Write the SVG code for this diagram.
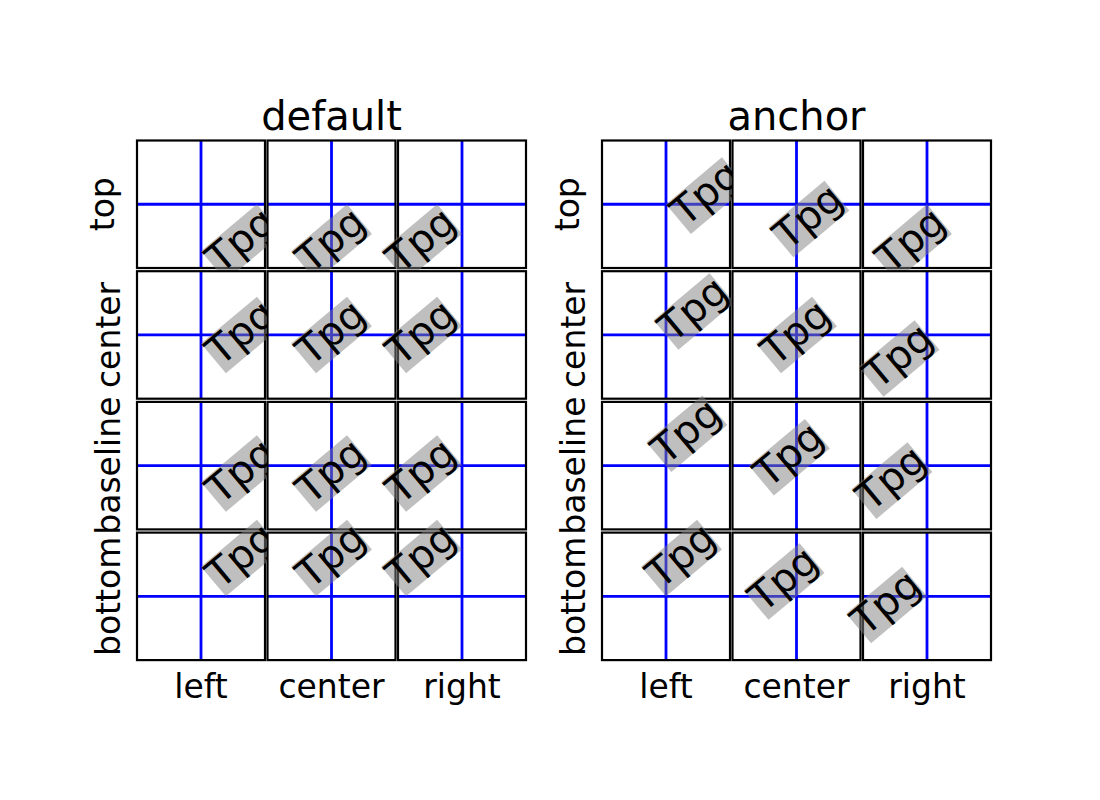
<svg xmlns="http://www.w3.org/2000/svg" width="1100" height="800" viewBox="0 0 1100 800">
<style>
text{font-family:"DejaVu Sans",sans-serif;fill:#000}
.bg{fill:#fff;stroke:none}
.fr{fill:none;stroke:#000;stroke-width:2.2}
.bl{stroke:#0000ff;stroke-width:2.8}
.bx{fill:#808080;fill-opacity:0.5}
.tp{font-size:40px}
.lb{font-size:33px;text-anchor:middle}
.ti{font-size:40px;text-anchor:middle}
</style>
<rect width="1100" height="800" fill="#fff"/>
<g id="default-panel">
<text class="ti" x="331.5" y="130">default</text>
<g id="d-top-left"><rect class="bg" x="137" y="140.5" width="128" height="127.5"/><line class="bl" x1="201" y1="140.5" x2="201" y2="268"/><line class="bl" x1="137" y1="204.25" x2="265" y2="204.25"/><rect class="fr" x="137" y="140.5" width="128" height="127.5"/><g transform="translate(220.55,274.46) rotate(-40)"><rect class="bx" x="0" y="-30.4" width="73" height="38.7"/><text class="tp">Tpg</text></g></g>
<g id="d-top-center"><rect class="bg" x="267.5" y="140.5" width="128" height="127.5"/><line class="bl" x1="331.5" y1="140.5" x2="331.5" y2="268"/><line class="bl" x1="267.5" y1="204.25" x2="395.5" y2="204.25"/><rect class="fr" x="267.5" y="140.5" width="128" height="127.5"/><g transform="translate(310.65,274.46) rotate(-40)"><rect class="bx" x="0" y="-30.4" width="73" height="38.7"/><text class="tp">Tpg</text></g></g>
<g id="d-top-right"><rect class="bg" x="398" y="140.5" width="128" height="127.5"/><line class="bl" x1="462" y1="140.5" x2="462" y2="268"/><line class="bl" x1="398" y1="204.25" x2="526" y2="204.25"/><rect class="fr" x="398" y="140.5" width="128" height="127.5"/><g transform="translate(400.74,274.46) rotate(-40)"><rect class="bx" x="0" y="-30.4" width="73" height="38.7"/><text class="tp">Tpg</text></g></g>
<g id="d-center-left"><rect class="bg" x="137" y="271.2" width="128" height="127.5"/><line class="bl" x1="201" y1="271.2" x2="201" y2="398.7"/><line class="bl" x1="137" y1="334.95" x2="265" y2="334.95"/><rect class="fr" x="137" y="271.2" width="128" height="127.5"/><g transform="translate(220.55,366.88) rotate(-40)"><rect class="bx" x="0" y="-30.4" width="73" height="38.7"/><text class="tp">Tpg</text></g></g>
<g id="d-center-center"><rect class="bg" x="267.5" y="271.2" width="128" height="127.5"/><line class="bl" x1="331.5" y1="271.2" x2="331.5" y2="398.7"/><line class="bl" x1="267.5" y1="334.95" x2="395.5" y2="334.95"/><rect class="fr" x="267.5" y="271.2" width="128" height="127.5"/><g transform="translate(310.65,366.88) rotate(-40)"><rect class="bx" x="0" y="-30.4" width="73" height="38.7"/><text class="tp">Tpg</text></g></g>
<g id="d-center-right"><rect class="bg" x="398" y="271.2" width="128" height="127.5"/><line class="bl" x1="462" y1="271.2" x2="462" y2="398.7"/><line class="bl" x1="398" y1="334.95" x2="526" y2="334.95"/><rect class="fr" x="398" y="271.2" width="128" height="127.5"/><g transform="translate(400.74,366.88) rotate(-40)"><rect class="bx" x="0" y="-30.4" width="73" height="38.7"/><text class="tp">Tpg</text></g></g>
<g id="d-baseline-left"><rect class="bg" x="137" y="401.9" width="128" height="127.5"/><line class="bl" x1="201" y1="401.9" x2="201" y2="529.4"/><line class="bl" x1="137" y1="465.65" x2="265" y2="465.65"/><rect class="fr" x="137" y="401.9" width="128" height="127.5"/><g transform="translate(220.55,505.46) rotate(-40)"><rect class="bx" x="0" y="-30.4" width="73" height="38.7"/><text class="tp">Tpg</text></g></g>
<g id="d-baseline-center"><rect class="bg" x="267.5" y="401.9" width="128" height="127.5"/><line class="bl" x1="331.5" y1="401.9" x2="331.5" y2="529.4"/><line class="bl" x1="267.5" y1="465.65" x2="395.5" y2="465.65"/><rect class="fr" x="267.5" y="401.9" width="128" height="127.5"/><g transform="translate(310.65,505.46) rotate(-40)"><rect class="bx" x="0" y="-30.4" width="73" height="38.7"/><text class="tp">Tpg</text></g></g>
<g id="d-baseline-right"><rect class="bg" x="398" y="401.9" width="128" height="127.5"/><line class="bl" x1="462" y1="401.9" x2="462" y2="529.4"/><line class="bl" x1="398" y1="465.65" x2="526" y2="465.65"/><rect class="fr" x="398" y="401.9" width="128" height="127.5"/><g transform="translate(400.74,505.46) rotate(-40)"><rect class="bx" x="0" y="-30.4" width="73" height="38.7"/><text class="tp">Tpg</text></g></g>
<g id="d-bottom-left"><rect class="bg" x="137" y="532.6" width="128" height="127.5"/><line class="bl" x1="201" y1="532.6" x2="201" y2="660.1"/><line class="bl" x1="137" y1="596.35" x2="265" y2="596.35"/><rect class="fr" x="137" y="532.6" width="128" height="127.5"/><g transform="translate(220.55,589.99) rotate(-40)"><rect class="bx" x="0" y="-30.4" width="73" height="38.7"/><text class="tp">Tpg</text></g></g>
<g id="d-bottom-center"><rect class="bg" x="267.5" y="532.6" width="128" height="127.5"/><line class="bl" x1="331.5" y1="532.6" x2="331.5" y2="660.1"/><line class="bl" x1="267.5" y1="596.35" x2="395.5" y2="596.35"/><rect class="fr" x="267.5" y="532.6" width="128" height="127.5"/><g transform="translate(310.65,589.99) rotate(-40)"><rect class="bx" x="0" y="-30.4" width="73" height="38.7"/><text class="tp">Tpg</text></g></g>
<g id="d-bottom-right"><rect class="bg" x="398" y="532.6" width="128" height="127.5"/><line class="bl" x1="462" y1="532.6" x2="462" y2="660.1"/><line class="bl" x1="398" y1="596.35" x2="526" y2="596.35"/><rect class="fr" x="398" y="532.6" width="128" height="127.5"/><g transform="translate(400.74,589.99) rotate(-40)"><rect class="bx" x="0" y="-30.4" width="73" height="38.7"/><text class="tp">Tpg</text></g></g>
<text class="lb" x="201" y="698">left</text>
<text class="lb" x="331.5" y="698">center</text>
<text class="lb" x="462" y="698">right</text>
<text class="lb" transform="translate(114,204.25) rotate(-90)">top</text>
<text class="lb" transform="translate(119.5,334.95) rotate(-90)">center</text>
<text class="lb" transform="translate(119.5,465.65) rotate(-90)">baseline</text>
<text class="lb" transform="translate(119.5,596.35) rotate(-90)">bottom</text>
</g>
<g id="anchor-panel">
<text class="ti" x="796.5" y="130">anchor</text>
<g id="a-top-left"><rect class="bg" x="602" y="140.5" width="128" height="127.5"/><line class="bl" x1="666" y1="140.5" x2="666" y2="268"/><line class="bl" x1="602" y1="204.25" x2="730" y2="204.25"/><rect class="fr" x="602" y="140.5" width="128" height="127.5"/><g transform="translate(666,204.25) rotate(-40)"><rect class="bx" x="0" y="0" width="73" height="38.7"/><text class="tp" x="0" y="30.4">Tpg</text></g></g>
<g id="a-top-center"><rect class="bg" x="732.5" y="140.5" width="128" height="127.5"/><line class="bl" x1="796.5" y1="140.5" x2="796.5" y2="268"/><line class="bl" x1="732.5" y1="204.25" x2="860.5" y2="204.25"/><rect class="fr" x="732.5" y="140.5" width="128" height="127.5"/><g transform="translate(796.5,204.25) rotate(-40)"><rect class="bx" x="-36.5" y="0" width="73" height="38.7"/><text class="tp" x="-36.5" y="30.4">Tpg</text></g></g>
<g id="a-top-right"><rect class="bg" x="863" y="140.5" width="128" height="127.5"/><line class="bl" x1="927" y1="140.5" x2="927" y2="268"/><line class="bl" x1="863" y1="204.25" x2="991" y2="204.25"/><rect class="fr" x="863" y="140.5" width="128" height="127.5"/><g transform="translate(927,204.25) rotate(-40)"><rect class="bx" x="-73" y="0" width="73" height="38.7"/><text class="tp" x="-73" y="30.4">Tpg</text></g></g>
<g id="a-center-left"><rect class="bg" x="602" y="271.2" width="128" height="127.5"/><line class="bl" x1="666" y1="271.2" x2="666" y2="398.7"/><line class="bl" x1="602" y1="334.95" x2="730" y2="334.95"/><rect class="fr" x="602" y="271.2" width="128" height="127.5"/><g transform="translate(666,334.95) rotate(-40)"><rect class="bx" x="0" y="-19.35" width="73" height="38.7"/><text class="tp" x="0" y="11.05">Tpg</text></g></g>
<g id="a-center-center"><rect class="bg" x="732.5" y="271.2" width="128" height="127.5"/><line class="bl" x1="796.5" y1="271.2" x2="796.5" y2="398.7"/><line class="bl" x1="732.5" y1="334.95" x2="860.5" y2="334.95"/><rect class="fr" x="732.5" y="271.2" width="128" height="127.5"/><g transform="translate(796.5,334.95) rotate(-40)"><rect class="bx" x="-36.5" y="-19.35" width="73" height="38.7"/><text class="tp" x="-36.5" y="11.05">Tpg</text></g></g>
<g id="a-center-right"><rect class="bg" x="863" y="271.2" width="128" height="127.5"/><line class="bl" x1="927" y1="271.2" x2="927" y2="398.7"/><line class="bl" x1="863" y1="334.95" x2="991" y2="334.95"/><rect class="fr" x="863" y="271.2" width="128" height="127.5"/><g transform="translate(927,334.95) rotate(-40)"><rect class="bx" x="-73" y="-19.35" width="73" height="38.7"/><text class="tp" x="-73" y="11.05">Tpg</text></g></g>
<g id="a-baseline-left"><rect class="bg" x="602" y="401.9" width="128" height="127.5"/><line class="bl" x1="666" y1="401.9" x2="666" y2="529.4"/><line class="bl" x1="602" y1="465.65" x2="730" y2="465.65"/><rect class="fr" x="602" y="401.9" width="128" height="127.5"/><g transform="translate(666,465.65) rotate(-40)"><rect class="bx" x="0" y="-30.4" width="73" height="38.7"/><text class="tp" x="0" y="0">Tpg</text></g></g>
<g id="a-baseline-center"><rect class="bg" x="732.5" y="401.9" width="128" height="127.5"/><line class="bl" x1="796.5" y1="401.9" x2="796.5" y2="529.4"/><line class="bl" x1="732.5" y1="465.65" x2="860.5" y2="465.65"/><rect class="fr" x="732.5" y="401.9" width="128" height="127.5"/><g transform="translate(796.5,465.65) rotate(-40)"><rect class="bx" x="-36.5" y="-30.4" width="73" height="38.7"/><text class="tp" x="-36.5" y="0">Tpg</text></g></g>
<g id="a-baseline-right"><rect class="bg" x="863" y="401.9" width="128" height="127.5"/><line class="bl" x1="927" y1="401.9" x2="927" y2="529.4"/><line class="bl" x1="863" y1="465.65" x2="991" y2="465.65"/><rect class="fr" x="863" y="401.9" width="128" height="127.5"/><g transform="translate(927,465.65) rotate(-40)"><rect class="bx" x="-73" y="-30.4" width="73" height="38.7"/><text class="tp" x="-73" y="0">Tpg</text></g></g>
<g id="a-bottom-left"><rect class="bg" x="602" y="532.6" width="128" height="127.5"/><line class="bl" x1="666" y1="532.6" x2="666" y2="660.1"/><line class="bl" x1="602" y1="596.35" x2="730" y2="596.35"/><rect class="fr" x="602" y="532.6" width="128" height="127.5"/><g transform="translate(666,596.35) rotate(-40)"><rect class="bx" x="0" y="-38.7" width="73" height="38.7"/><text class="tp" x="0" y="-8.3">Tpg</text></g></g>
<g id="a-bottom-center"><rect class="bg" x="732.5" y="532.6" width="128" height="127.5"/><line class="bl" x1="796.5" y1="532.6" x2="796.5" y2="660.1"/><line class="bl" x1="732.5" y1="596.35" x2="860.5" y2="596.35"/><rect class="fr" x="732.5" y="532.6" width="128" height="127.5"/><g transform="translate(796.5,596.35) rotate(-40)"><rect class="bx" x="-36.5" y="-38.7" width="73" height="38.7"/><text class="tp" x="-36.5" y="-8.3">Tpg</text></g></g>
<g id="a-bottom-right"><rect class="bg" x="863" y="532.6" width="128" height="127.5"/><line class="bl" x1="927" y1="532.6" x2="927" y2="660.1"/><line class="bl" x1="863" y1="596.35" x2="991" y2="596.35"/><rect class="fr" x="863" y="532.6" width="128" height="127.5"/><g transform="translate(927,596.35) rotate(-40)"><rect class="bx" x="-73" y="-38.7" width="73" height="38.7"/><text class="tp" x="-73" y="-8.3">Tpg</text></g></g>
<text class="lb" x="666" y="698">left</text>
<text class="lb" x="796.5" y="698">center</text>
<text class="lb" x="927" y="698">right</text>
<text class="lb" transform="translate(579,204.25) rotate(-90)">top</text>
<text class="lb" transform="translate(584.5,334.95) rotate(-90)">center</text>
<text class="lb" transform="translate(584.5,465.65) rotate(-90)">baseline</text>
<text class="lb" transform="translate(584.5,596.35) rotate(-90)">bottom</text>
</g>
<g id="connectors"/>
</svg>
